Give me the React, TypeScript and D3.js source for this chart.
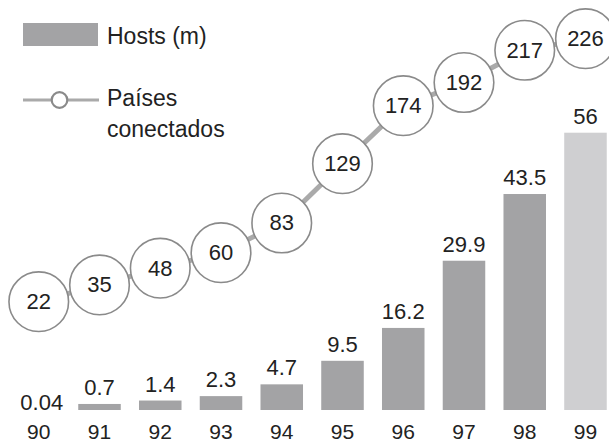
import React from "react";
import * as d3 from "d3";

const years = ["90", "91", "92", "93", "94", "95", "96", "97", "98", "99"];
const hosts = [0.04, 0.7, 1.4, 2.3, 4.7, 9.5, 16.2, 29.9, 43.5, 56];
const hostLabels = ["0.04", "0.7", "1.4", "2.3", "4.7", "9.5", "16.2", "29.9", "43.5", "56"];
const countries = [22, 35, 48, 60, 83, 129, 174, 192, 217, 226];
const legendLabels = ["Hosts (m)", "Países", "conectados"];

const W = 609;
const H = 443;
const FONT = "'Liberation Sans', Arial, Helvetica, sans-serif";
const BAR = "#a3a3a5";
const BAR_LIGHT = "#cfcfd1";
const LINE = "#aaaaaa";
const CIRCLE_STROKE = "#8a8a8a";
const TEXT = "#222222";

export default function App() {
  const baseline = 410;
  const x = d3.scaleBand<string>().domain(years).range([17.5, 606.75]).paddingInner(0.3).paddingOuter(0);
  const yBar = d3.scaleLinear().domain([0, 56]).range([407.4, 132.7]);
  const yLine = d3.scaleLinear().domain([0, 256]).range([330, 0]);
  const cx = (y: string) => (x(y) as number) + x.bandwidth() / 2;

  const line = d3
    .line<number>()
    .x((_, i) => cx(years[i]))
    .y((d) => yLine(d));

  return (
    <svg
      width={W}
      height={H}
      style={{ position: "absolute", left: 0, top: 0, background: "#fff" }}
      fontFamily={FONT}
    >
      <rect x={0} y={0} width={W} height={H} fill="#fff" />
      {/* bars */}
      {hosts.map((v, i) => {
        const visible = v >= 0.1;
        const top = visible ? yBar(v) : baseline;
        return (
          <g key={"b" + i}>
            {visible && (
              <rect
                x={x(years[i])}
                y={top}
                width={x.bandwidth()}
                height={baseline - top}
                fill={i === years.length - 1 ? BAR_LIGHT : BAR}
              />
            )}
            <text
              x={cx(years[i]) + (visible ? 0 : 3)}
              y={visible ? top - 9 : baseline}
              textAnchor="middle"
              fontSize={22}
              fill={TEXT}
            >
              {hostLabels[i]}
            </text>
            <text x={cx(years[i])} y={438.5} textAnchor="middle" fontSize={21} fill={TEXT}>
              {years[i]}
            </text>
          </g>
        );
      })}
      {/* line */}
      <path d={line(countries) || ""} fill="none" stroke={LINE} strokeWidth={5} />
      {countries.map((v, i) => (
        <g key={"c" + i}>
          <circle cx={cx(years[i])} cy={yLine(v)} r={29.8} fill="#fff" stroke={CIRCLE_STROKE} strokeWidth={1.6} />
          <text
            x={cx(years[i])}
            y={yLine(v)}
            dy="0.34em"
            textAnchor="middle"
            fontSize={22}
            fill={TEXT}
          >
            {v}
          </text>
        </g>
      ))}
      {/* legend */}
      <rect x={23} y={23} width={75} height={23} fill={BAR} />
      <text x={107} y={43.5} fontSize={23} fill={TEXT}>
        {legendLabels[0]}
      </text>
      <line x1={23} x2={99} y1={100} y2={100} stroke={LINE} strokeWidth={3} />
      <circle cx={59.5} cy={100} r={7.8} fill="#fff" stroke={CIRCLE_STROKE} strokeWidth={2.2} />
      <text x={107} y={106} fontSize={23} fill={TEXT}>
        {legendLabels[1]}
      </text>
      <text x={107} y={136.5} fontSize={23} fill={TEXT}>
        {legendLabels[2]}
      </text>
    </svg>
  );
}
